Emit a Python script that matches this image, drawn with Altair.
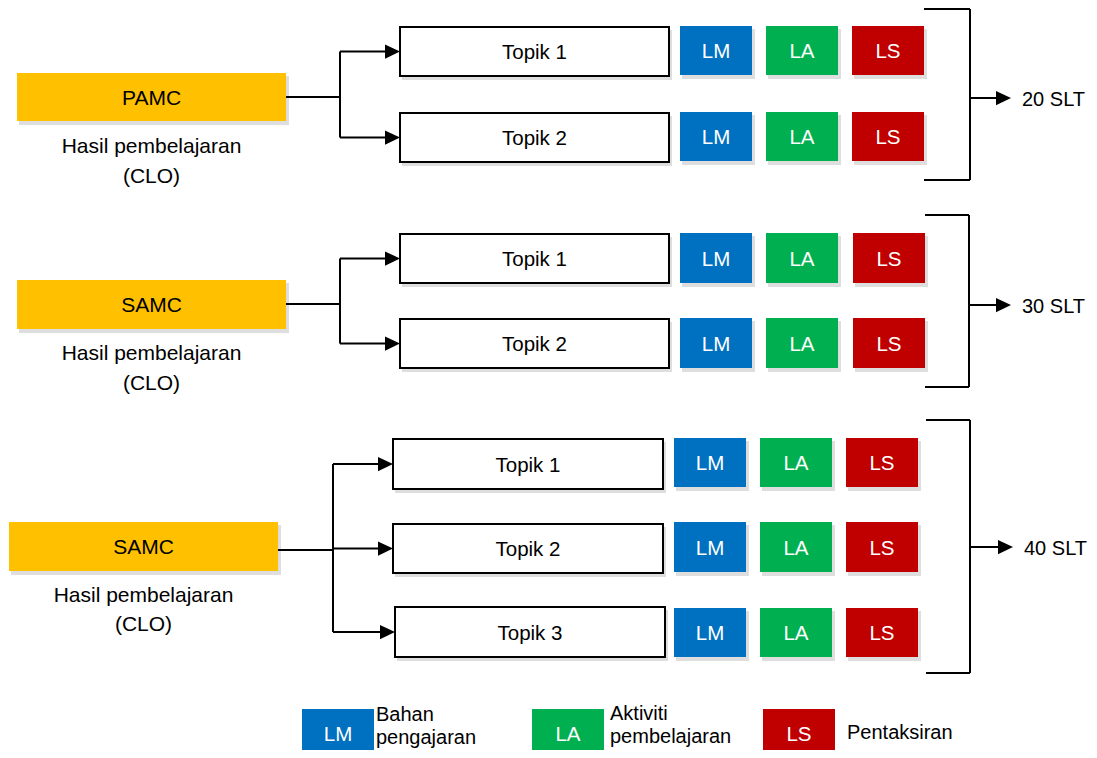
import altair as alt
import pandas as pd

# ---------------- content ----------------
SOURCE_LABELS = ["PAMC", "SAMC", "SAMC"]
SOURCE_SUB = ["Hasil pembelajaran", "(CLO)"]
TOPICS = [["Topik 1", "Topik 2"], ["Topik 1", "Topik 2"], ["Topik 1", "Topik 2", "Topik 3"]]
SLT = ["20 SLT", "30 SLT", "40 SLT"]
ITEMS = ["LM", "LA", "LS"]
ITEM_COLORS = ["#0070C0", "#00B050", "#C00000"]
LEGEND_TEXT = [["Bahan", "pengajaran"], ["Aktiviti", "pembelajaran"], ["Pentaksiran"]]

# ---------------- layout (page pixels) ----------------
SRC_BOX = [(17, 286, 73, 121), (17, 286, 280, 329), (9, 278, 522, 571)]
SUB_Y = [(145, 175), (352, 382), (594, 623)]
TRUNK_X = [340, 340, 333]
TRUNK_Y = [97, 304, 550]
TOPIC_BOX = [
    [(400, 669, 27, 76), (400, 669, 113, 162)],
    [(400, 669, 234, 283), (400, 669, 319, 368)],
    [(393, 663, 439, 489), (393, 663, 524, 573), (395, 665, 607, 657)],
]
ITEM_X = [
    [(680, 752), (766, 838), (852, 924)],
    [(680, 752), (766, 838), (853, 925)],
    [(674, 746), (760, 832), (846, 918)],
]
ITEM_Y = [
    [(26, 75), (112, 161)],
    [(233, 283), (318, 368)],
    [(438, 487), (522, 572), (608, 657)],
]
# bracket: x_left, x_right, y_top, y_bottom, y_arrow, x_tip, x_text
BRACKET = [
    (924, 970, 9, 180, 98, 1011, 1022),
    (925, 969, 215, 387, 305, 1011, 1022),
    (926, 970, 420, 673, 547, 1013, 1024),
]
LEG_BOX = [(302, 374), (532, 604), (763, 835)]
LEG_Y = (709, 760)
LEG_TEXT_X = [376, 610, 847]
LEG_TEXT_Y = [[713, 736], [712, 735], [731]]
LEG_LABEL_Y = 733

FS = 21
FONT = "Liberation Sans"
DY = 1.5

# ---------------- build tables ----------------
rects, shadows, segs, heads, texts = [], [], [], [], []

def add_rect(x1, x2, y1, y2, fill, stroke="none", sw=0, shadow=True):
    rects.append(dict(x=x1, x2=x2, y=y1, y2=y2, fill=fill, stroke=stroke, sw=sw))
    if shadow:
        shadows.append(dict(x=x1 + 2, x2=x2 + 3, y=y1 + 3, y2=y2 + 4))

def add_text(x, y, t, color="#000000", align="center", size=FS):
    texts.append(dict(x=x, y=y + DY, t=t, c=color, a=align, s=size))

for g in range(3):
    x1, x2, y1, y2 = SRC_BOX[g]
    add_rect(x1, x2, y1, y2, "#FFC000")
    cx = (x1 + x2) / 2
    add_text(cx, (y1 + y2) / 2, SOURCE_LABELS[g])
    for line, yy in zip(SOURCE_SUB, SUB_Y[g]):
        add_text(cx, yy, line)
    # connector
    segs.append(dict(x=x2, x2=TRUNK_X[g], y=TRUNK_Y[g], y2=TRUNK_Y[g]))
    tys = [(b[2] + b[3]) / 2 for b in TOPIC_BOX[g]]
    segs.append(dict(x=TRUNK_X[g], x2=TRUNK_X[g], y=min(tys), y2=max(tys)))
    for (bx1, bx2, by1, by2), t, (iy1, iy2) in zip(TOPIC_BOX[g], TOPICS[g], ITEM_Y[g]):
        cy = (by1 + by2) / 2
        segs.append(dict(x=TRUNK_X[g], x2=bx1 - 8, y=cy, y2=cy))
        heads.append(dict(x=bx1, y=cy))
        add_rect(bx1, bx2, by1, by2, "#FFFFFF", "#000000", 2)
        add_text((bx1 + bx2) / 2, cy, t, size=20.5)
        for (ix1, ix2), lab, col in zip(ITEM_X[g], ITEMS, ITEM_COLORS):
            add_rect(ix1, ix2, iy1, iy2, col)
            add_text((ix1 + ix2) / 2, (iy1 + iy2) / 2, lab, "#FFFFFF", size=20.5)
    bl, br, bt, bb, ya, xt, xtx = BRACKET[g]
    segs.append(dict(x=bl, x2=br, y=bt, y2=bt))
    segs.append(dict(x=bl, x2=br, y=bb, y2=bb))
    segs.append(dict(x=br, x2=br, y=bt, y2=bb))
    segs.append(dict(x=br, x2=xt - 8, y=ya, y2=ya))
    heads.append(dict(x=xt, y=ya))
    add_text(xtx, ya, SLT[g], align="left", size=20)

for (lx1, lx2), lab, col, tx, lines, tys in zip(LEG_BOX, ITEMS, ITEM_COLORS, LEG_TEXT_X, LEGEND_TEXT, LEG_TEXT_Y):
    add_rect(lx1, lx2, LEG_Y[0], LEG_Y[1], col, shadow=False)
    add_text((lx1 + lx2) / 2, LEG_LABEL_Y, lab, "#FFFFFF", size=20.5)
    for line, yy in zip(lines, tys):
        add_text(tx, yy, line, align="left", size=20)

W, H = 1081, 742
xs = alt.Scale(domain=[8, 8 + W])
ys = alt.Scale(domain=[8, 8 + H], reverse=True)

def X(f):
    return alt.X(f, type="quantitative", scale=xs, axis=None)

def Y(f):
    return alt.Y(f, type="quantitative", scale=ys, axis=None)

shadow_layer = alt.Chart(pd.DataFrame(shadows)).mark_rect(
    color="#000000", opacity=0.13, clip=True
).encode(x=X("x"), x2="x2", y=Y("y"), y2="y2")

rect_layer = alt.Chart(pd.DataFrame(rects)).mark_rect(clip=True).encode(
    x=X("x"), x2="x2", y=Y("y"), y2="y2",
    fill=alt.Fill("fill:N", scale=None),
    stroke=alt.Stroke("stroke:N", scale=None),
    strokeWidth=alt.StrokeWidth("sw:Q", scale=None),
)

seg_layer = alt.Chart(pd.DataFrame(segs)).mark_rule(color="#000000", strokeWidth=2).encode(
    x=X("x"), x2="x2", y=Y("y"), y2="y2"
)

head_layer = alt.Chart(pd.DataFrame(heads)).mark_point(
    shape="M -2 -0.95 L 0 0 L -2 0.95 Z", filled=True, color="#000000", opacity=1, size=225
).encode(x=X("x"), y=Y("y"))

tdf = pd.DataFrame(texts)
text_layers = []
for (a, s), sub in tdf.groupby(["a", "s"]):
    text_layers.append(
        alt.Chart(sub).mark_text(align=a, baseline="middle", font=FONT, fontSize=float(s)).encode(
            x=X("x"), y=Y("y"), text="t:N", color=alt.Color("c:N", scale=None)
        )
    )

chart = alt.layer(shadow_layer, rect_layer, seg_layer, head_layer, *text_layers).properties(
    width=W, height=H
).configure_view(stroke=None).properties(padding=0, autosize=alt.AutoSizeParams(type="none"))

chart.save("out.html", embed_options={"renderer": "svg", "actions": False})
